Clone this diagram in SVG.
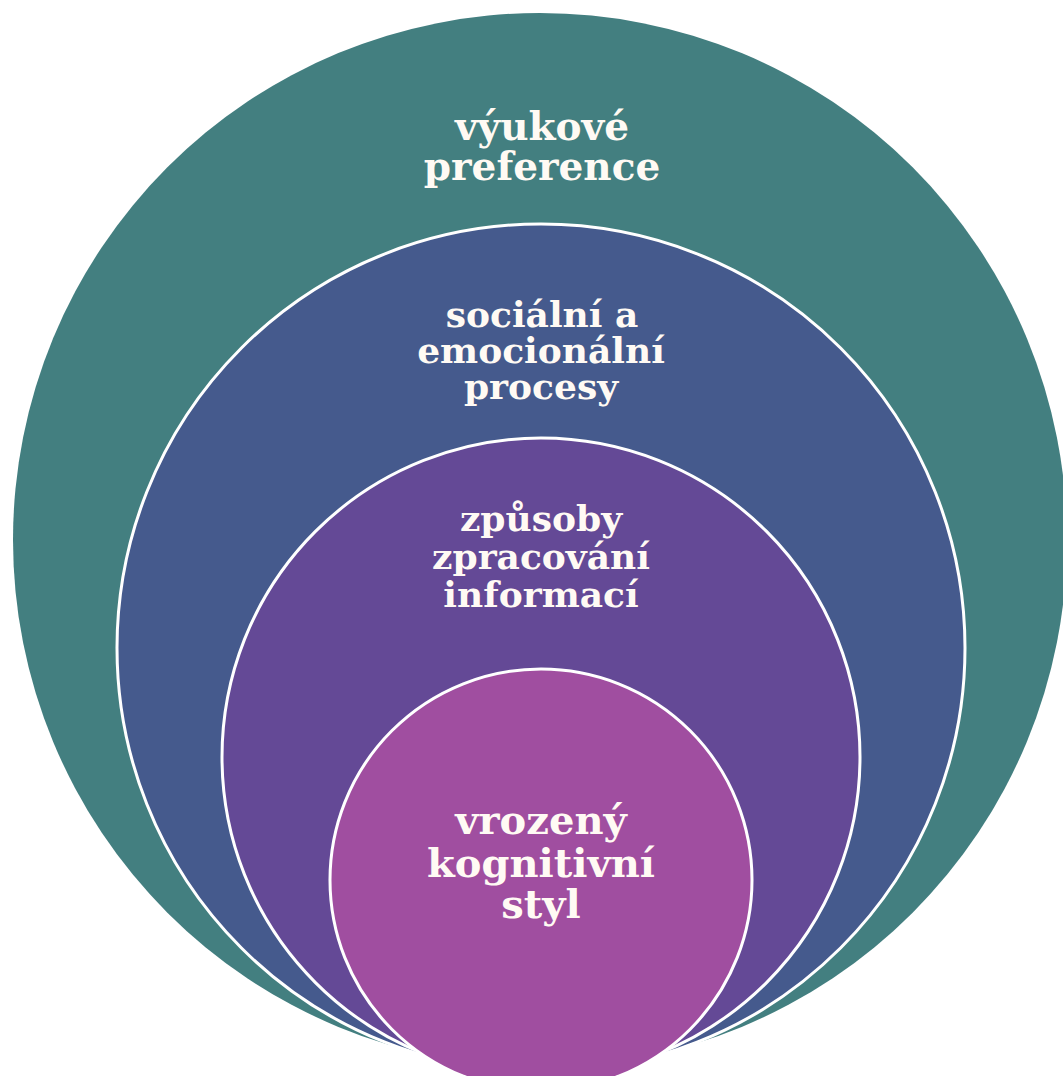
<svg xmlns="http://www.w3.org/2000/svg" width="1063" height="1076" viewBox="0 0 1063 1076">
<style>
.ring{stroke:#ffffff;stroke-width:3}
.lbl{font-family:"DejaVu Serif","Liberation Serif",serif;font-weight:bold;fill:#FFFAF4;text-anchor:middle}
</style>
<rect width="1063" height="1076" fill="#ffffff"/>
<g id="node-vyukove">
<circle cx="540" cy="540" r="527" fill="#437F80"/>
<text class="lbl" font-size="39"><tspan x="542" y="140">výukové</tspan><tspan x="542" y="180">preference</tspan></text>
</g>
<g id="node-socialni">
<circle class="ring" cx="541" cy="648" r="424" fill="#455A8D"/>
<text class="lbl" font-size="36"><tspan x="542" y="327">sociální a</tspan><tspan x="541" y="363">emocionální</tspan><tspan x="541" y="399">procesy</tspan></text>
</g>
<g id="node-zpusoby">
<circle class="ring" cx="541" cy="757" r="319" fill="#644996"/>
<text class="lbl" font-size="36"><tspan x="541" y="531">způsoby</tspan><tspan x="541" y="569">zpracování</tspan><tspan x="541" y="607">informací</tspan></text>
</g>
<g id="node-vrozeny">
<circle class="ring" cx="541" cy="880" r="211" fill="#A04EA0"/>
<text class="lbl" font-size="40"><tspan x="541" y="834">vrozený</tspan><tspan x="541" y="877">kognitivní</tspan><tspan x="541" y="918">styl</tspan></text>
</g>
<g id="connectors"/>
</svg>
